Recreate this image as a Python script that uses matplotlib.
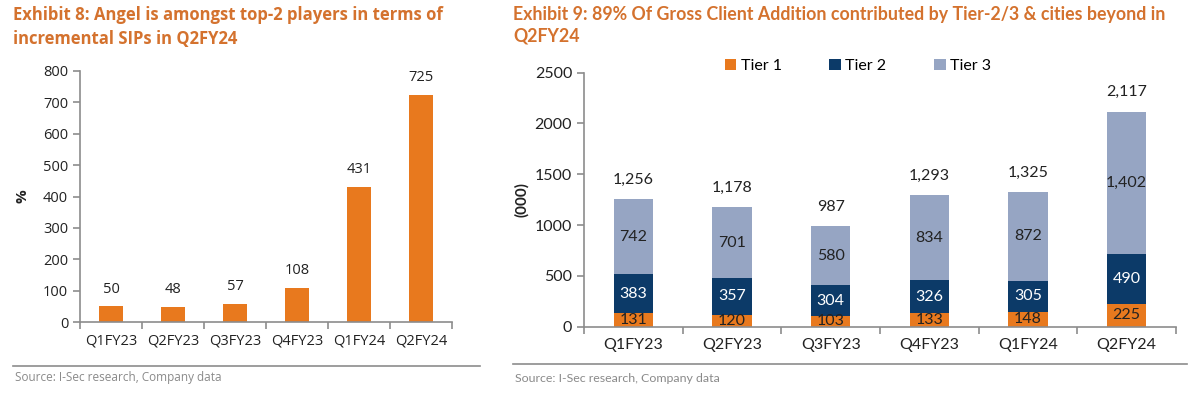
import matplotlib
matplotlib.use("Agg")
import matplotlib.pyplot as plt
import numpy as np

# ---- data ----
quarters = ["Q1FY23", "Q2FY23", "Q3FY23", "Q4FY23", "Q1FY24", "Q2FY24"]
sip_share = [50, 48, 57, 108, 431, 725]

tier1 = [131, 120, 103, 133, 148, 225]
tier2 = [383, 357, 304, 326, 305, 490]
tier3 = [742, 701, 580, 834, 872, 1402]
totals = [1256, 1178, 987, 1293, 1325, 2117]
tier_names = ["Tier 1", "Tier 2", "Tier 3"]

title_left = "Exhibit 8: Angel is amongst top-2 players in terms of\nincremental SIPs in Q2FY24"
title_right = "Exhibit 9: 89% Of Gross Client Addition contributed by Tier-2/3 & cities beyond in\nQ2FY24"
source = "Source: I-Sec research, Company data"

ORANGE = "#E8791E"
NAVY = "#0C3A68"
LIGHT = "#96A5C3"
TITLE_C = "#D4722E"
AX_C = "#8C8C8C"
TXT = "#222222"

W, H = 1200, 395
fig = plt.figure(figsize=(W / 100, H / 100), dpi=100)

def rect(x0, y0, x1, y1):
    return [x0 / W, 1 - y1 / H, (x1 - x0) / W, (y1 - y0) / H]

FL = "Open Sans"
FR = "Lato"

def style_axes(ax, fam):
    for s in ["top", "right"]:
        ax.spines[s].set_visible(False)
    for s in ["left", "bottom"]:
        ax.spines[s].set_color(AX_C)
        ax.spines[s].set_linewidth(1.2)
    ax.tick_params(axis="y", colors=AX_C, length=5, width=1.2, labelcolor=TXT, labelsize=10.5)
    ax.tick_params(axis="x", which="major", length=0, labelcolor=TXT, labelsize=10.5, pad=8)
    ax.tick_params(axis="x", which="minor", length=5, width=1.2, colors=AX_C)
    for lab in ax.get_xticklabels() + ax.get_yticklabels():
        lab.set_family(fam)

# ---- left chart ----
axL = fig.add_axes(rect(80, 71, 452, 322))
x = np.arange(len(quarters))
axL.bar(x, sip_share, width=0.4, color=ORANGE)
axL.set_xlim(-0.5, len(quarters) - 0.5)
axL.set_ylim(0, 800)
axL.set_yticks(range(0, 801, 100))
axL.set_xticks(x)
axL.set_xticklabels(quarters)
axL.set_xticks(np.arange(-0.5, len(quarters), 1.0), minor=True)
style_axes(axL, FL)
for xi, v in zip(x, sip_share):
    axL.annotate(f"{v}", (xi, v), xytext=(0, 7), textcoords="offset points",
                 ha="center", va="bottom", fontsize=10.5, color=TXT, family=FL)
axL.set_ylabel("%", fontsize=11, fontweight="bold", family=FL, color=TXT, labelpad=10)

# ---- right chart ----
axR = fig.add_axes(rect(584, 72.7, 1176, 326.7))
b1 = axR.bar(x, tier1, width=0.4, color=ORANGE, label=tier_names[0])
b2 = axR.bar(x, tier2, width=0.4, bottom=tier1, color=NAVY, label=tier_names[1])
bottom3 = np.array(tier1) + np.array(tier2)
b3 = axR.bar(x, tier3, width=0.4, bottom=bottom3, color=LIGHT, label=tier_names[2])
axR.set_xlim(-0.5, len(quarters) - 0.5)
axR.set_ylim(0, 2500)
axR.set_yticks(range(0, 2501, 500))
axR.set_xticks(x)
axR.set_xticklabels(quarters)
axR.set_xticks(np.arange(-0.5, len(quarters), 1.0), minor=True)
style_axes(axR, FR)
axR.tick_params(axis="both", labelsize=11.5)
for i in range(len(quarters)):
    axR.text(x[i], tier1[i] / 2, f"{tier1[i]}", ha="center", va="center",
             fontsize=11.5, color=TXT, family=FR)
    axR.text(x[i], tier1[i] + tier2[i] / 2, f"{tier2[i]}", ha="center", va="center",
             fontsize=11.5, color="white", family=FR)
    axR.text(x[i], bottom3[i] + tier3[i] / 2, f"{tier3[i]:,}", ha="center", va="center",
             fontsize=11.5, color=TXT, family=FR)
    axR.annotate(f"{totals[i]:,}", (x[i], totals[i]), xytext=(0, 9), textcoords="offset points",
                 ha="center", va="bottom", fontsize=11.5, color=TXT, family=FR)
axR.set_ylabel("(000)", fontsize=11, fontweight="bold", family=FR, color=TXT, labelpad=4)
leg = axR.legend(handles=[b1, b2, b3], loc="center", bbox_to_anchor=(858 / W, 1 - 66 / H),
                 bbox_transform=fig.transFigure, ncol=3, frameon=False,
                 handlelength=0.7, handleheight=0.7, handletextpad=0.3, columnspacing=3.0,
                 prop={"family": FR, "size": 11.5})

# ---- titles ----
fig.text(13 / W, 1 - 6 / H, title_left, ha="left", va="top", fontsize=12.0,
         fontweight="bold", color=TITLE_C, family=FL, linespacing=1.4)
fig.text(513 / W, 1 - 6 / H, title_right, ha="left", va="top", fontsize=12.8,
         fontweight="bold", color=TITLE_C, family=FR, linespacing=1.35)

# ---- separators and sources ----
fig.add_artist(plt.Line2D([13 / W, 480 / W], [1 - 366 / H] * 2, color=AX_C, lw=1.2))
fig.add_artist(plt.Line2D([513 / W, 1187 / W], [1 - 364 / H] * 2, color=AX_C, lw=1.2))
fig.text(15 / W, 1 - 378 / H, source, ha="left", va="center", fontsize=8.5, color="#8A8A8A", family=FL)
fig.text(515 / W, 1 - 378 / H, source, ha="left", va="center", fontsize=8.9, color="#8A8A8A", family=FR)

fig.savefig("out.png", dpi=100)
